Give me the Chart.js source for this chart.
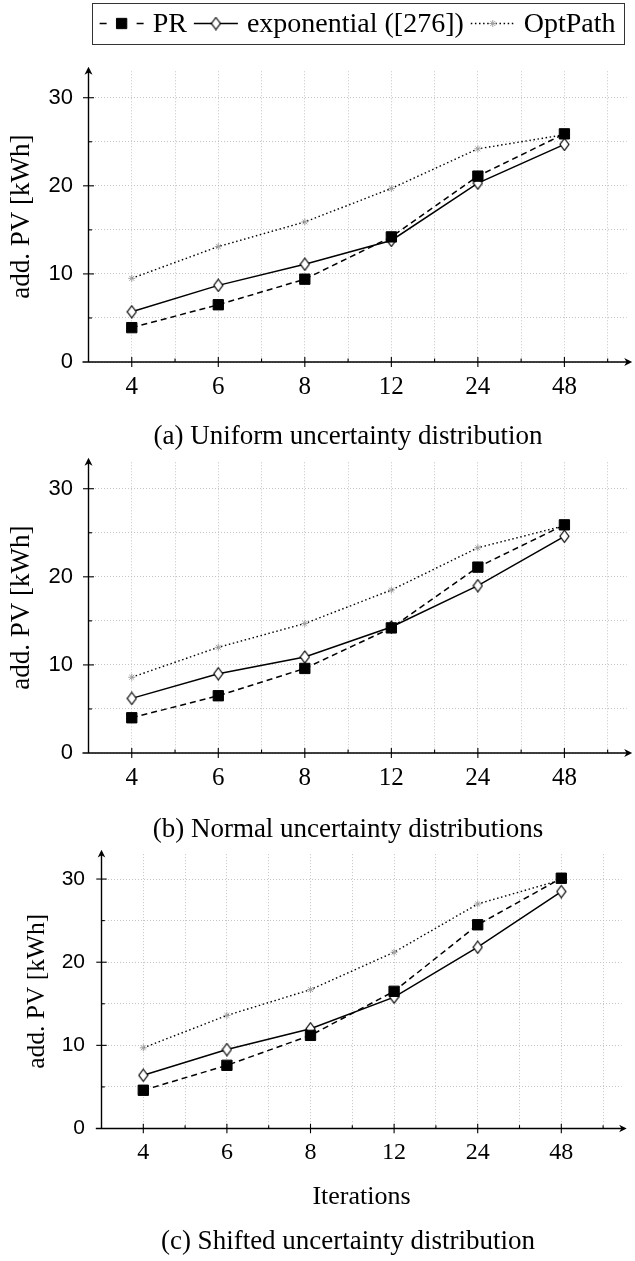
<!DOCTYPE html>
<html>
<head>
<meta charset="utf-8">
<script src="https://cdn.jsdelivr.net/npm/chart.js@4.4.0/dist/chart.umd.min.js"></script>
<style>
  html, body { margin: 0; padding: 0; background: #fff; }
  #fig { position: relative; width: 635px; height: 1261px; overflow: hidden; }
  #fig canvas { position: absolute; left: 0; }
  .cap {
    position: absolute; left: 0; width: 696px; text-align: center;
    font-family: 'Liberation Serif', serif; font-size: 27px; line-height: 27px;
    color: #000; white-space: nowrap; z-index: 2;
  }
</style>
</head>
<body>
<div id="fig">
  <canvas id="panelA" width="635" height="400" style="top:0px"></canvas>
  <canvas id="panelB" width="635" height="400" style="top:391px"></canvas>
  <canvas id="panelC" width="635" height="461" style="top:800px"></canvas>
  <div class="cap" style="top:422px">(a) Uniform uncertainty distribution</div>
  <div class="cap" style="top:815px">(b) Normal uncertainty distributions</div>
  <div class="cap" style="top:1227px">(c) Shifted uncertainty distribution</div>
</div>
<script>
// Iteration counts on the x axis
const categories = ['4', '6', '8', '12', '24', '48'];
const seriesNames = ['PR', 'exponential ([276])', 'OptPath'];
const yLabel = 'add. PV [kWh]';
const xLabel = 'Iterations';

// (a) uniform uncertainty
const prUniform  = [3.9, 6.5, 9.4, 14.2, 21.1, 25.9];
const expUniform = [5.7, 8.7, 11.1, 13.8, 20.3, 24.7];
const optUniform = [9.5, 13.1, 15.9, 19.7, 24.2, 25.8];

// (b) normal uncertainty
const prNormal  = [4.0, 6.5, 9.6, 14.2, 21.1, 25.9];
const expNormal = [6.2, 9.0, 10.9, 14.3, 19.0, 24.6];
const optNormal = [8.6, 12.0, 14.7, 18.5, 23.3, 25.8];

// (c) shifted uncertainty
const prShifted  = [4.6, 7.6, 11.2, 16.5, 24.5, 30.1];
const expShifted = [6.4, 9.5, 12.0, 15.8, 21.8, 28.5];
const optShifted = [9.7, 13.6, 16.7, 21.2, 27.0, 29.9];

const SERIF = "'Liberation Serif', 'DejaVu Serif', serif";
const SANS = "'Liberation Sans', 'DejaVu Sans', sans-serif";

// open diamond, a little taller than wide
function diamondMarker(w, h) {
  const c = document.createElement('canvas');
  c.width = w + 2; c.height = h + 2;
  const g = c.getContext('2d');
  const cx = c.width / 2, cy = c.height / 2;
  g.beginPath();
  g.moveTo(cx, 1); g.lineTo(c.width - 1, cy); g.lineTo(cx, c.height - 1); g.lineTo(1, cy);
  g.closePath();
  g.fillStyle = '#fff'; g.fill();
  g.lineWidth = 1.2; g.strokeStyle = '#000'; g.stroke();
  return c;
}
const diamond = diamondMarker(9, 12);

const styles = [
  { borderDash: [6, 4], legendDash: [7, 11.5], pointStyle: 'rect', pointRadius: 7.3, pointBackgroundColor: '#000', pointBorderColor: '#000', pointBorderWidth: 1 },
  { borderDash: [], legendDash: [], pointStyle: diamond, pointRadius: 6, pointBackgroundColor: '#fff', pointBorderColor: '#000', pointBorderWidth: 1 },
  { borderDash: [1.5, 2.6], legendDash: [1.5, 2.6], pointStyle: 'star', pointRadius: 3.5, pointBackgroundColor: '#a0a0a0', pointBorderColor: '#a0a0a0', pointBorderWidth: 1 }
];

function toPoints(values) {
  return values.map((v, i) => ({ x: i + 1, y: v }));
}

function stealth(ctx, tx, ty, dir, k) {
  const L = 8 * k, W = 4 * k, N = 2.4 * k;
  ctx.beginPath();
  if (dir === 'right') {
    ctx.moveTo(tx, ty);
    ctx.lineTo(tx - L, ty - W);
    ctx.lineTo(tx - L + N, ty);
    ctx.lineTo(tx - L, ty + W);
  } else {
    ctx.moveTo(tx, ty);
    ctx.lineTo(tx - W, ty + L);
    ctx.lineTo(tx, ty + L - N);
    ctx.lineTo(tx + W, ty + L);
  }
  ctx.closePath();
  ctx.fill();
}

// axis lines with arrow heads and pgf-style tick marks
const axesPlugin = {
  id: 'pgfAxes',
  afterDatasetsDraw(chart, args, opts) {
    const k = opts.k || 1;
    const { ctx, chartArea: a } = chart;
    const xs = chart.scales.x, ys = chart.scales.y;
    const y0 = ys.getPixelForValue(0);
    const x0 = xs.getPixelForValue(xs.min);
    ctx.save();
    ctx.setLineDash([]);
    ctx.strokeStyle = '#000';
    ctx.fillStyle = '#000';
    ctx.lineWidth = 1.4;
    ctx.beginPath();
    ctx.moveTo(x0 - 6 * k, y0); ctx.lineTo(a.right + 3 * k, y0);
    ctx.moveTo(x0, y0); ctx.lineTo(x0, a.top - 2 * k);
    ctx.stroke();
    stealth(ctx, a.right + 5.5 * k, y0, 'right', k);
    stealth(ctx, x0, a.top - 4.5 * k, 'up', k);
    ctx.lineWidth = 1.1;
    xs.ticks.forEach(t => {
      if (t.value <= xs.min) return;
      const px = xs.getPixelForValue(t.value);
      ctx.beginPath();
      if (Number.isInteger(t.value)) { ctx.moveTo(px, y0 - 5 * k); ctx.lineTo(px, y0 + 5 * k); }
      else { ctx.moveTo(px, y0); ctx.lineTo(px, y0 - 3.5 * k); }
      ctx.stroke();
    });
    ys.ticks.forEach(t => {
      if (t.value <= 0) return;
      const py = ys.getPixelForValue(t.value);
      ctx.beginPath();
      if (t.value % 10 === 0) { ctx.moveTo(x0 - 5.5 * k, py); ctx.lineTo(x0 + 5.5 * k, py); }
      else { ctx.moveTo(x0, py); ctx.lineTo(x0 + 3.5 * k, py); }
      ctx.stroke();
    });
    ctx.restore();
  }
};

// boxed legend above the first panel
const boxLegendPlugin = {
  id: 'boxLegend',
  afterDraw(chart, args, opts) {
    if (!opts.show) return;
    const { ctx, chartArea: a } = chart;
    const fontSize = 28;
    const sampleW = 44, gapST = 9, gapTS = 7, pad = 8;
    ctx.save();
    ctx.font = fontSize + 'px ' + SERIF;
    const items = chart.data.datasets.map(ds => ({ ds, w: ctx.measureText(ds.label).width }));
    let total = pad * 2;
    items.forEach((it, i) => { total += sampleW + gapST + it.w + (i < items.length - 1 ? gapTS : 0); });
    const top = 3, bottom = 44, cy = (top + bottom) / 2;
    const left = (a.left + a.right) / 2 - total / 2;
    ctx.strokeStyle = '#333'; ctx.lineWidth = 1;
    ctx.strokeRect(Math.round(left) + 0.5, top + 0.5, Math.round(total), bottom - top);
    let x = left + pad;
    items.forEach((it, i) => {
      const ds = it.ds;
      ctx.save();
      ctx.strokeStyle = '#000'; ctx.lineWidth = ds.borderWidth;
      ctx.setLineDash(ds.legendDash || []);
      ctx.beginPath(); ctx.moveTo(x, cy); ctx.lineTo(x + sampleW, cy); ctx.stroke();
      ctx.setLineDash([]);
      ctx.fillStyle = ds.pointBackgroundColor; ctx.strokeStyle = ds.pointBorderColor;
      ctx.lineWidth = ds.pointBorderWidth;
      Chart.helpers.drawPoint(ctx, { pointStyle: ds.pointStyle, radius: ds.pointRadius, rotation: 0, borderWidth: ds.pointBorderWidth }, x + sampleW / 2, cy);
      ctx.restore();
      x += sampleW + gapST;
      ctx.fillStyle = '#000'; ctx.textBaseline = 'middle'; ctx.textAlign = 'left';
      ctx.fillText(ds.label, x, cy + 1);
      x += it.w + gapTS;
    });
    ctx.restore();
  }
};

function makePanel(canvasId, pr, ex, op, g) {
  const datasets = [pr, ex, op].map((vals, i) => Object.assign({
    label: seriesNames[i],
    data: toPoints(vals),
    borderColor: '#000',
    borderWidth: i === 2 ? 1.4 : 1.5,
    fill: false,
    tension: 0
  }, styles[i]));
  return new Chart(document.getElementById(canvasId), {
    type: 'line',
    data: { datasets },
    plugins: [axesPlugin, boxLegendPlugin],
    options: {
      responsive: false,
      animation: false,
      events: [],
      layout: { padding: { left: 0, right: g.padRight, top: g.padTop, bottom: g.padBottom } },
      plugins: {
        legend: { display: false },
        tooltip: { enabled: false },
        pgfAxes: { k: g.k },
        boxLegend: { show: !!g.legend }
      },
      scales: {
        x: {
          type: 'linear',
          min: 0.5, max: 6.72,
          afterFit: s => { s.height = g.xHeight; },
          ticks: {
            stepSize: 0.5, includeBounds: false, maxTicksLimit: 100, autoSkip: false, maxRotation: 0,
            padding: g.xTickPad, color: '#000',
            font: { family: SERIF, size: g.xTickSize },
            callback: v => Number.isInteger(v) ? categories[v - 1] : ''
          },
          grid: { color: '#bdbdbd', lineWidth: 0.9, drawTicks: false },
          border: { display: false, dash: [1, 2] },
          title: g.xTitle ? {
            display: true, text: xLabel, color: '#000',
            font: { family: SERIF, size: g.xTitleSize }, padding: { top: 0, bottom: g.xTitlePad }
          } : { display: false }
        },
        y: {
          type: 'linear',
          min: 0, max: 33,
          afterFit: s => { s.width = g.yWidth; },
          ticks: {
            stepSize: 5, includeBounds: false, maxTicksLimit: 100,
            padding: g.yTickPad, color: '#000',
            font: { family: SANS, size: g.yTickSize },
            callback: v => (v % 10 === 0 ? String(v) : '')
          },
          grid: { color: '#bdbdbd', lineWidth: 0.9, drawTicks: false },
          border: { display: false, dash: [1, 2] },
          title: {
            display: true, text: yLabel, color: '#000',
            font: { family: SERIF, size: g.yTitleSize }, padding: { top: g.yTitlePad, bottom: 0 }
          }
        }
      }
    }
  });
}

const geomAB = {
  k: 1, padRight: 1, padTop: 71.3, padBottom: 0,
  yWidth: 88.5, xHeight: 38,
  xTickPad: 10, xTickSize: 25, yTickPad: 15.5, yTickSize: 22,
  yTitleSize: 27, yTitlePad: 5.8
};
const geomC = {
  k: 0.95, padRight: 13.5, padTop: 54.1, padBottom: 40,
  yWidth: 101.5, xHeight: 92.5,
  xTickPad: 9.5, xTickSize: 24, yTickPad: 16.5, yTickSize: 21,
  yTitleSize: 25.5, yTitlePad: 21.7,
  xTitle: true, xTitleSize: 26, xTitlePad: 8
};

makePanel('panelA', prUniform, expUniform, optUniform, Object.assign({ legend: true }, geomAB));
makePanel('panelB', prNormal, expNormal, optNormal, geomAB);
makePanel('panelC', prShifted, expShifted, optShifted, geomC);
</script>
</body>
</html>
